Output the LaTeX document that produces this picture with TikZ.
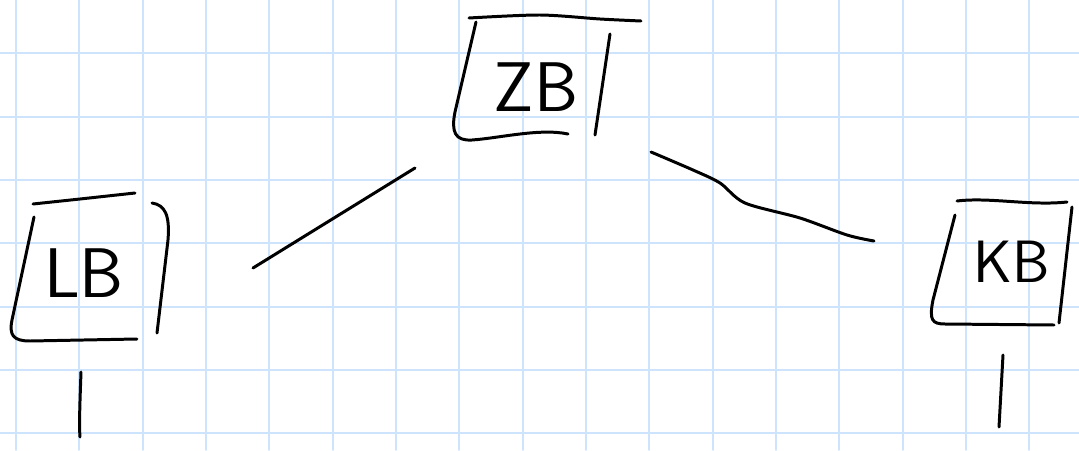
\documentclass[tikz,border=0pt]{standalone}
\usepackage{tikz}
\usepackage{xcolor}
\definecolor{gridblue}{RGB}{206,228,252}

\begin{document}
\begin{tikzpicture}[x=0.02cm,y=-0.02cm,line cap=round,line join=round,
  pen/.style={black,line width=1.7pt},
  lbl/.style={font=\sffamily\fontsize{40}{40}\selectfont,inner sep=0pt}]
\useasboundingbox (0,0) rectangle (1079,450);
\fill[white] (0,0) rectangle (1079,450);
% squared paper
\foreach \i in {0,...,16}
  \draw[gridblue,line width=1.1pt] ({16+63.33*\i},0) -- ({16+63.33*\i},450);
\foreach \j in {1,...,7}
  \draw[gridblue,line width=1.1pt] (0,{-10+63.33*\j}) -- (1079,{-10+63.33*\j});
% labels
\node[lbl] (zb) at (536,87) {ZB};
\node[lbl] (lb) at (84,273) {LB};
\node[lbl,scale=0.85] (kb) at (1012,262) {KB};
% boxes
\draw[pen] plot[smooth] coordinates {(469,18) (540,15) (600,19) (641,21)};
\draw[pen] (476,22) -- (455,112) .. controls (451,132) and (455,141) .. (472,140)
  .. controls (500,138) and (540,128) .. (568,134);
\draw[pen] (610,34) -- (595,135);
\draw[pen] plot[smooth] coordinates {(33,204) (80,199) (135,193)};
\draw[pen] (34,217) -- (12,320) .. controls (9,335) and (13,341) .. (30,341) -- (137,339);
\draw[pen] (152,203) .. controls (165,205) and (170,215) .. (168,240) -- (157,333);
\draw[pen] (957,201) .. controls (990,197) and (1030,206) .. (1067,202);
\draw[pen] (955,215) -- (933,300) .. controls (929,320) and (932,324) .. (945,324) -- (1054,325);
\draw[pen] (1072,207) -- (1059,323);
% connectors
\coordinate (zb-l) at (415,168);
\coordinate (lb-r) at (253,268);
\coordinate (zb-r) at (651,152);
\coordinate (kb-l) at (874,241);
\coordinate (lb-s) at (81,372);
\coordinate (lb-e) at (80,437);
\coordinate (kb-s) at (1003,355);
\coordinate (kb-e) at (999,427);
\draw[pen] (zb-l) -- (lb-r);
\draw[pen] plot[smooth] coordinates {(zb-r) (693,170) (720,183) (745,203) (800,218) (847,235) (kb-l)};
\draw[pen] (lb-s) .. controls (80,400) and (79,425) .. (lb-e);
\draw[pen] (kb-s) -- (kb-e);
\end{tikzpicture}
\end{document}
